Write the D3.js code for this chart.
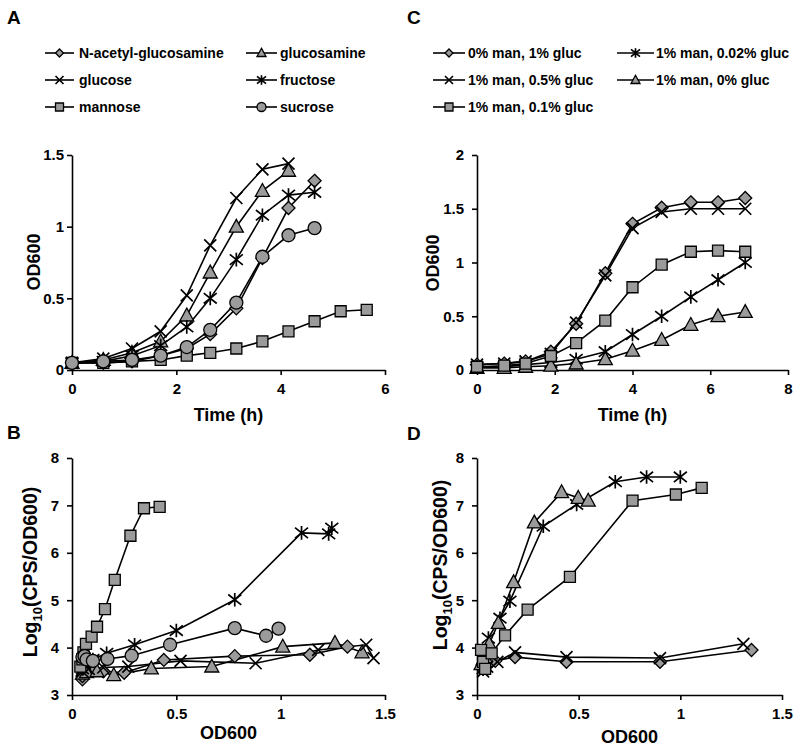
<!DOCTYPE html>
<html><head><meta charset="utf-8">
<script src="https://cdn.jsdelivr.net/npm/d3@7"></script>
<style>
body{margin:0;background:#fff}
text{font-family:Arial,"Liberation Sans",sans-serif;font-weight:bold;fill:#000}
</style>
</head><body><svg id="c" width="800" height="751"></svg>
<script>
// ---------- Panel A: OD600 vs time (carbon sources) ----------
const timeA = [0,0.6,1.15,1.7,2.2,2.65,3.15,3.65,4.15,4.65,5.15,5.65];
const odA_nag = [0.05,0.05,0.06,0.1,0.15,0.25,0.43,0.78,1.13,1.32];
const odA_glucosamine = [0.05,0.07,0.12,0.2,0.38,0.68,1.0,1.25,1.39];
const odA_glucose = [0.05,0.08,0.15,0.27,0.52,0.87,1.2,1.4,1.44];
const odA_fructose = [0.05,0.06,0.1,0.17,0.3,0.5,0.77,1.08,1.22,1.24];
const odA_mannose = [0.05,0.05,0.06,0.07,0.1,0.12,0.15,0.2,0.27,0.34,0.41,0.42];
const odA_sucrose = [0.05,0.06,0.07,0.1,0.16,0.28,0.47,0.79,0.94,0.99];
const legendA = ["N-acetyl-glucosamine","glucosamine","glucose","fructose","mannose","sucrose"];

// ---------- Panel B: Log10(CPS/OD600) vs OD600 ----------
const odB_nag = [0.05,0.05,0.06,0.1,0.15,0.25,0.44,0.78,1.14,1.32];
const logB_nag = [3.33,3.4,3.5,3.55,3.5,3.47,3.74,3.82,3.85,4.02];
const odB_glucosamine = [0.05,0.07,0.12,0.2,0.38,0.67,1.01,1.26,1.39];
const logB_glucosamine = [3.45,3.48,3.5,3.42,3.56,3.6,4.02,4.1,3.9];
const odB_glucose = [0.05,0.08,0.15,0.27,0.52,0.88,1.18,1.41,1.445];
const logB_glucose = [3.5,3.55,3.58,3.6,3.72,3.67,3.95,4.06,3.78];
const odB_fructose = [0.05,0.06,0.1,0.166,0.3,0.5,0.78,1.1,1.23,1.245];
const logB_fructose = [3.55,3.65,3.75,3.88,4.06,4.36,5.01,6.42,6.4,6.52];
const odB_mannose = [0.04,0.05,0.055,0.067,0.094,0.12,0.158,0.205,0.28,0.345,0.42];
const logB_mannose = [3.6,3.75,3.9,4.08,4.23,4.44,4.81,5.43,6.36,6.94,6.97];
const odB_sucrose = [0.05,0.06,0.07,0.1,0.17,0.286,0.47,0.78,0.93,0.99];
const logB_sucrose = [3.8,3.82,3.75,3.72,3.76,3.83,4.06,4.41,4.25,4.4];

// ---------- Panel C: OD600 vs time (mannose / glucose mixes) ----------
const timeC = [0,0.7,1.25,1.9,2.55,3.3,4.0,4.75,5.5,6.2,6.9];
const odC_m0g1 = [0.05,0.06,0.08,0.17,0.43,0.9,1.36,1.51,1.56,1.56,1.6];
const odC_m1g05 = [0.05,0.06,0.08,0.15,0.44,0.88,1.32,1.47,1.5,1.5,1.5];
const odC_m1g01 = [0.03,0.04,0.06,0.13,0.25,0.46,0.77,0.98,1.1,1.11,1.1];
const odC_m1g002 = [0.03,0.03,0.05,0.07,0.1,0.17,0.33,0.5,0.68,0.84,1.0];
const odC_m1g0 = [0.02,0.02,0.03,0.04,0.06,0.1,0.18,0.28,0.42,0.5,0.54];
const legendC = ["0% man, 1% gluc","1% man, 0.02% gluc","1% man, 0.5% gluc","1% man, 0% gluc","1% man, 0.1% gluc"];

// ---------- Panel D: Log10(CPS/OD600) vs OD600 ----------
const odD_m0g1 = [0.03,0.05,0.09,0.187,0.44,0.9,1.35];
const logD_m0g1 = [3.55,3.62,3.72,3.8,3.7,3.7,3.95];
const odD_m1g05 = [0.03,0.05,0.1,0.187,0.44,0.9,1.31];
const logD_m1g05 = [3.5,3.6,3.7,3.9,3.8,3.78,4.08];
const odD_m1g01 = [0.02,0.03,0.04,0.072,0.138,0.249,0.457,0.765,0.978,1.105];
const logD_m1g01 = [3.95,3.7,3.55,3.88,4.26,4.8,5.49,7.1,7.23,7.37];
const odD_m1g002 = [0.03,0.04,0.056,0.113,0.162,0.326,0.49,0.68,0.834,1.0];
const logD_m1g002 = [3.55,3.7,4.2,4.62,4.98,6.56,7.02,7.5,7.6,7.6];
const odD_m1g0 = [0.02,0.03,0.04,0.06,0.105,0.18,0.282,0.416,0.498,0.547];
const logD_m1g0 = [3.65,3.75,3.8,4.08,4.52,5.38,6.64,7.28,7.16,7.1];

// axis ticks
const ticksA_x = [0,2,4,6], ticksA_y = [0,0.5,1,1.5];
const ticksB_x = [0,0.5,1,1.5], ticksB_y = [3,4,5,6,7,8];
const ticksC_x = [0,2,4,6,8], ticksC_y = [0,0.5,1,1.5,2];
const ticksD_x = [0,0.5,1,1.5], ticksD_y = [3,4,5,6,7,8];

const svg = d3.select("#c");
const GRAY = "#9b9b9b";

function symPath(type, s) {
  const h = s / 2;
  switch (type) {
    case "square": return `M${-h},${-h}H${h}V${h}H${-h}Z`;
    case "diamond": return `M0,${-h}L${h},0L0,${h}L${-h},0Z`;
    case "triangle": return `M0,${-h*1.05}L${h},${h*0.78}L${-h},${h*0.78}Z`;
    case "circle": return `M${h},0A${h},${h} 0 1,1 ${-h},0A${h},${h} 0 1,1 ${h},0Z`;
    case "x": return `M${-h},${-h}L${h},${h}M${-h},${h}L${h},${-h}`;
    case "star": return `M${-h},${-h*0.8}L${h},${h*0.8}M${-h},${h*0.8}L${h},${-h*0.8}M0,${-h*1.05}V${h*1.05}`;
  }
}
const symSize = {square:11, diamond:13, triangle:14, circle:13, x:12, star:13};
const legSize = {square:8, diamond:8, triangle:9, circle:9, x:8, star:9};

function drawMarker(g, type, x, y, s) {
  const open = (type === "x" || type === "star");
  g.append("path").attr("d", symPath(type, s)).attr("transform", `translate(${x},${y})`)
    .attr("fill", open ? "none" : GRAY).attr("stroke", "#000")
    .attr("stroke-width", open ? 1.7 : 1.3).attr("stroke-linejoin", "miter");
}

function panel(cfg) {
  const x = d3.scaleLinear().domain(cfg.xd).range(cfg.xr);
  const y = d3.scaleLinear().domain(cfg.yd).range(cfg.yr);
  const g = svg.append("g");
  const ax = g.append("g").attr("transform", `translate(0,${cfg.yr[0]})`)
    .call(d3.axisBottom(x).tickValues(cfg.xt).tickSize(5).tickSizeOuter(0).tickPadding(8).tickFormat(d3.format("~g")));
  const ay = g.append("g").attr("transform", `translate(${cfg.xr[0]},0)`)
    .call(d3.axisLeft(y).tickValues(cfg.yt).tickSize(5).tickSizeOuter(0).tickPadding(cfg.ypad).tickFormat(d3.format("~g")));
  [ax, ay].forEach(a => {
    a.select(".domain").attr("stroke", "#000").attr("stroke-width", 1.6);
    a.selectAll(".tick line").attr("stroke", "#000").attr("stroke-width", 1.6);
    a.selectAll(".tick text").attr("font-size", 15).attr("font-family", "Arial, 'Liberation Sans', sans-serif").attr("font-weight", "bold").attr("fill", "#000");
  });
  const line = d3.line().x(d => x(d[0])).y(d => y(d[1]));
  cfg.series.forEach(s => {
    const pts = s.ys.map((v, i) => [s.xs[i], v]);
    g.append("path").attr("d", line(pts)).attr("fill", "none").attr("stroke", "#000").attr("stroke-width", 1.6);
  });
  cfg.series.forEach(s => {
    s.ys.forEach((v, i) => drawMarker(g, s.type, x(s.xs[i]), y(v), symSize[s.type]));
  });
  g.append("text").attr("x", (cfg.xr[0] + cfg.xr[1]) / 2).attr("y", cfg.xtY).attr("text-anchor", "middle")
    .attr("font-size", 18).text(cfg.xtitle);
  const yt = g.append("text").attr("transform", `translate(${cfg.ytX},${cfg.ytCY}) rotate(-90)`)
    .attr("text-anchor", "middle").attr("font-size", cfg.log ? 19.5 : 18);
  if (cfg.log) {
    yt.append("tspan").text("Log");
    yt.append("tspan").attr("font-size", 13).attr("dy", 5).text("10");
    yt.append("tspan").attr("dy", -5).text("(CPS/OD600)");
  } else yt.text(cfg.ytitle);
  g.append("text").attr("x", cfg.lx).attr("y", cfg.ly).attr("font-size", 19).text(cfg.letter);
}

function legend(items, cols, rows) {
  const g = svg.append("g");
  items.forEach((it, i) => {
    const c = cols[i % 2], yy = rows[Math.floor(i / 2)];
    g.append("line").attr("x1", c.l0).attr("x2", c.l1).attr("y1", yy).attr("y2", yy).attr("stroke", "#000").attr("stroke-width", 1.6);
    drawMarker(g, it.type, (c.l0 + c.l1) / 2, yy, legSize[it.type]);
    g.append("text").attr("x", c.tx).attr("y", yy + 5).attr("font-size", 14).text(it.label);
  });
}

const tA = n => timeA.slice(0, n), tC = n => timeC.slice(0, n);

panel({letter:"A", lx:7, ly:24, xd:[0,6], yd:[0,1.5], xr:[72,385], yr:[370,155], xt:ticksA_x, yt:ticksA_y, ypad:3,
  xtitle:"Time (h)", xtY:421, ytitle:"OD600", ytX:40, ytCY:262,
  series:[
    {type:"diamond", xs:tA(odA_nag.length), ys:odA_nag},
    {type:"triangle", xs:tA(odA_glucosamine.length), ys:odA_glucosamine},
    {type:"x", xs:tA(odA_glucose.length), ys:odA_glucose},
    {type:"star", xs:tA(odA_fructose.length), ys:odA_fructose},
    {type:"square", xs:tA(odA_mannose.length), ys:odA_mannose},
    {type:"circle", xs:tA(odA_sucrose.length), ys:odA_sucrose}
  ]});
panel({letter:"B", lx:7, ly:439, xd:[0,1.5], yd:[3,8], xr:[72,385], yr:[695,458], xt:ticksB_x, yt:ticksB_y, ypad:8,
  xtitle:"OD600", xtY:739, log:true, ytX:37, ytCY:572,
  series:[
    {type:"diamond", xs:odB_nag, ys:logB_nag},
    {type:"triangle", xs:odB_glucosamine, ys:logB_glucosamine},
    {type:"x", xs:odB_glucose, ys:logB_glucose},
    {type:"star", xs:odB_fructose, ys:logB_fructose},
    {type:"square", xs:odB_mannose, ys:logB_mannose},
    {type:"circle", xs:odB_sucrose, ys:logB_sucrose}
  ]});
panel({letter:"C", lx:407, ly:24, xd:[0,8], yd:[0,2], xr:[477,788], yr:[370,155], xt:ticksC_x, yt:ticksC_y, ypad:8,
  xtitle:"Time (h)", xtY:421, ytitle:"OD600", ytX:439, ytCY:263,
  series:[
    {type:"diamond", xs:tC(odC_m0g1.length), ys:odC_m0g1},
    {type:"star", xs:tC(odC_m1g002.length), ys:odC_m1g002},
    {type:"x", xs:tC(odC_m1g05.length), ys:odC_m1g05},
    {type:"triangle", xs:tC(odC_m1g0.length), ys:odC_m1g0},
    {type:"square", xs:tC(odC_m1g01.length), ys:odC_m1g01}
  ]});
panel({letter:"D", lx:407, ly:440, xd:[0,1.5], yd:[3,8], xr:[477,782], yr:[695,458], xt:ticksD_x, yt:ticksD_y, ypad:8,
  xtitle:"OD600", xtY:743, log:true, ytX:447, ytCY:565,
  series:[
    {type:"diamond", xs:odD_m0g1, ys:logD_m0g1},
    {type:"star", xs:odD_m1g002, ys:logD_m1g002},
    {type:"x", xs:odD_m1g05, ys:logD_m1g05},
    {type:"triangle", xs:odD_m1g0, ys:logD_m1g0},
    {type:"square", xs:odD_m1g01, ys:logD_m1g01}
  ]});

legend([
  {type:"diamond", label:legendA[0]}, {type:"triangle", label:legendA[1]},
  {type:"x", label:legendA[2]}, {type:"star", label:legendA[3]},
  {type:"square", label:legendA[4]}, {type:"circle", label:legendA[5]}
], [{l0:45, l1:74, tx:79}, {l0:246, l1:277, tx:280}], [53, 80, 107]);

legend([
  {type:"diamond", label:legendC[0]}, {type:"star", label:legendC[1]},
  {type:"x", label:legendC[2]}, {type:"triangle", label:legendC[3]},
  {type:"square", label:legendC[4]}
], [{l0:433, l1:465, tx:468}, {l0:617, l1:654, tx:656}], [53, 80, 107]);
</script></body></html>
